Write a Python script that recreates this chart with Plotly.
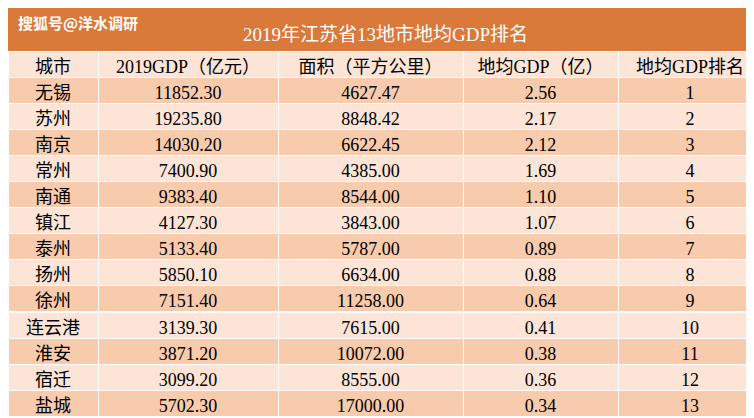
import plotly.graph_objects as go

cities = ["无锡","苏州","南京","常州","南通","镇江","泰州","扬州","徐州","连云港","淮安","宿迁","盐城"]
gdp = ["11852.30","19235.80","14030.20","7400.90","9383.40","4127.30","5133.40","5850.10","7151.40","3139.30","3871.20","3099.20","5702.30"]
area = ["4627.47","8848.42","6622.45","4385.00","8544.00","3843.00","5787.00","6634.00","11258.00","7615.00","10072.00","8555.00","17000.00"]
avg = ["2.56","2.17","2.12","1.69","1.10","1.07","0.89","0.88","0.64","0.41","0.38","0.36","0.34"]
rank = [str(i) for i in range(1, 14)]
headers = ["城市","2019GDP（亿元）","面积（平方公里）","地均GDP（亿）","地均GDP排名"]

W, H = 754, 418
top = 50
rowh = 26.1
colors = ["#F8CBAD" if i % 2 == 0 else "#FCE4D6" for i in range(13)]
font = dict(family="Liberation Serif, Noto Sans CJK SC", size=18, color="black")

fig = go.Figure(go.Table(
    columnwidth=[90, 180, 185, 155, 144],
    header=dict(values=headers, fill_color="#FCE4D6", line=dict(color="white", width=1),
                font=font, height=rowh, align="center"),
    cells=dict(values=[cities, gdp, area, avg, rank], fill_color=[colors]*5,
               line=dict(color="white", width=1), font=font, height=rowh, align="center"),
    domain=dict(x=[0, 1], y=[0, 1 - 43 / H]),
))
fig.add_shape(type="rect", xref="paper", yref="paper", x0=0, x1=1, y0=1 - top / H, y1=1,
              fillcolor="#D9793A", line_width=0, layer="below")
fig.add_annotation(text="2019年江苏省13地市地均GDP排名", xref="paper", yref="paper", x=0.5, y=1,
                   yanchor="top", yshift=-14,
                   showarrow=False, font=dict(family="Liberation Serif, Noto Sans CJK SC", size=19, color="white"))
fig.add_annotation(text="<b>搜狐号@洋水调研</b>", xref="paper", yref="paper", x=0.01, y=1,
                   yanchor="top", yshift=-2, xanchor="left",
                   showarrow=False, font=dict(family="Noto Sans CJK SC", size=15, color="white"))
fig.update_layout(width=W, height=H, margin=dict(l=0, r=0, t=0, b=0), paper_bgcolor="white")
fig.write_html("out.html")
